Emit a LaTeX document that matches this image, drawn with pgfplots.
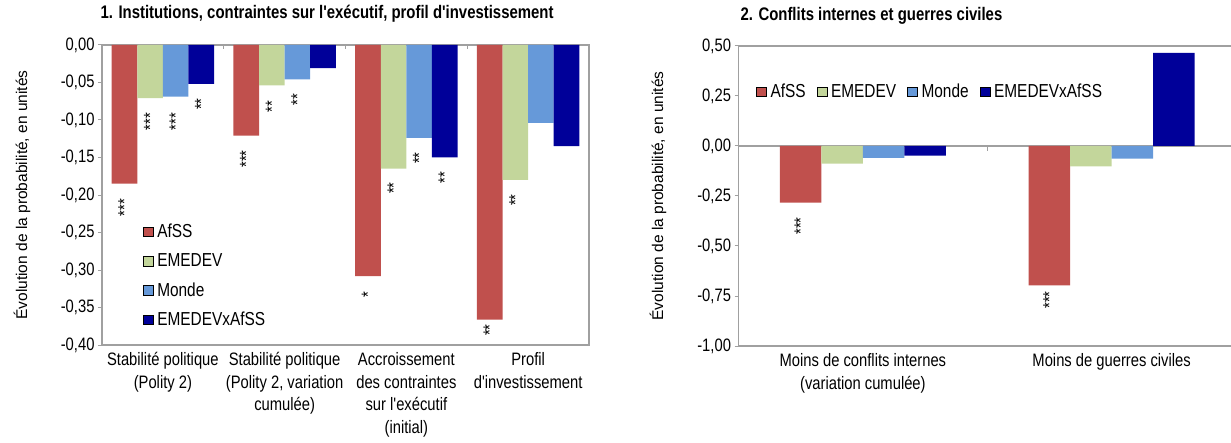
\documentclass[border=0pt]{standalone}
\usepackage{fontspec}
\newfontfamily\nar[FakeStretch=0.82]{Liberation Sans}
\newfontfamily\reg{Liberation Sans}
\usepackage{pgfplots}
\usepackage{pgfplotstable}
\pgfplotsset{compat=1.18}
\definecolor{cA}{RGB}{192,80,77}
\definecolor{cB}{RGB}{195,214,155}
\definecolor{cC}{RGB}{102,153,217}
\definecolor{cD}{RGB}{0,0,153}
\definecolor{frm}{RGB}{160,160,160}

\pgfplotstableread{
x afss emedev monde inter
0 -0.185 -0.071 -0.069 -0.052
1 -0.121 -0.054 -0.046 -0.031
2 -0.308 -0.165 -0.124 -0.150
3 -0.366 -0.180 -0.104 -0.135
}\tabA
\pgfplotstableread{
x afss emedev monde inter
0 -0.283 -0.088 -0.060 -0.048
1 -0.697 -0.102 -0.063 0.465
}\tabB

\newcommand{\fs}{\nar\fontsize{18}{22.5}\selectfont}
\newcommand{\fl}{\nar\fontsize{18.8}{22.5}\selectfont}
\pgfplotsset{
  base/.style={
    scale only axis, height=300pt,
    axis line style={frm, line width=1.3pt},
    ytick pos=left, tick align=outside, major tick length=4pt,
    ytick style={frm, line width=1pt},
    xtick style={draw=none},
    tick label style={font=\fs},
    xticklabel style={align=center},
    legend image code/.code={\fill[##1] (0pt,-4.8pt) rectangle (10pt,4.8pt);},
    legend cell align=left,
    title style={font=\nar\bfseries\fontsize{18.2}{20}\selectfont, anchor=base west},
    ylabel style={font=\reg\fontsize{15.5}{18}\selectfont, anchor=center},
    clip=false,
  },
  stars/.style={only marks, mark=text, text mark={#1}, text mark as node=true,
    text mark style={rotate=90, font=\fs, inner sep=0pt}, forget plot},
}

\begin{document}
\begin{tikzpicture}
\useasboundingbox (0,0) rectangle (1231pt,442pt);
% ---------- Panel 1 ----------
\begin{axis}[base,
  at={(102pt,97pt)}, anchor=south west, width=487pt,
  xmin=-0.5, xmax=3.5, ymin=-0.4, ymax=0,
  ytick={-0.4,-0.35,-0.3,-0.25,-0.2,-0.15,-0.1,-0.05,0},
  yticklabels={{-0,40},{-0,35},{-0,30},{-0,25},{-0,20},{-0,15},{-0,10},{-0,05},{0,00}},
  xtick={0,1,2,3},
  xticklabels={{Stabilité politique\\(Polity 2)},{Stabilité politique\\(Polity 2, variation\\cumulée)},{Accroissement\\des contraintes\\sur l'exécutif\\(initial)},{Profil\\d'investissement}},
  title={1. Institutions, contraintes sur l'exécutif, profil d'investissement},
  title style={at={(rel axis cs:0,1)}, xshift=-5pt, yshift=20.5pt},
  ylabel={Évolution de la probabilité, en unités},
  ylabel style={at={([xshift=-80pt]rel axis cs:0,0.5)}},
  legend style={at={(rel axis cs:0.0835,0.407)}, anchor=north west, draw=none, fill=none,
    inner sep=0pt, row sep=12.5pt, nodes={inner sep=1pt}, font=\fl,
    /tikz/every odd column/.append style={column sep=3pt}},
]
\addlegendimage{fill=cA}
\addlegendimage{fill=cB}
\addlegendimage{fill=cC}
\addlegendimage{fill=cD}
\addlegendentry{AfSS}
\addlegendentry{EMEDEV}
\addlegendentry{Monde}
\addlegendentry{EMEDEVxAfSS}
\addplot[ybar, bar width=0.21, bar shift=-0.315, fill=cA, draw=none, forget plot] table[x=x,y=afss] {\tabA};
\addplot[ybar, bar width=0.21, bar shift=-0.105, fill=cB, draw=none, forget plot] table[x=x,y=emedev] {\tabA};
\addplot[ybar, bar width=0.21, bar shift=0.105, fill=cC, draw=none, forget plot] table[x=x,y=monde] {\tabA};
\addplot[ybar, bar width=0.21, bar shift=0.315, fill=cD, draw=none, forget plot] table[x=x,y=inter] {\tabA};
\addplot[stars={***}] coordinates {(-0.315,-0.217) (-0.105,-0.102) (0.105,-0.102) (0.685,-0.152)};
\addplot[stars={**}] coordinates {(0.315,-0.079) (0.895,-0.082) (1.105,-0.073) (1.895,-0.191) (2.105,-0.151) (2.315,-0.1765) (2.685,-0.380) (2.895,-0.207)};
\addplot[stars={*}] coordinates {(1.685,-0.333)};
\draw[frm, line width=1pt] (axis cs:0.5,0) -- ++(0pt,-4.5pt);
\draw[frm, line width=1pt] (axis cs:1.5,0) -- ++(0pt,-4.5pt);
\draw[frm, line width=1pt] (axis cs:2.5,0) -- ++(0pt,-4.5pt);
\end{axis}
% ---------- Panel 2 ----------
\begin{axis}[base,
  at={(738.5pt,96pt)}, anchor=south west, width=497.5pt,
  xmin=-0.5, xmax=1.5, ymin=-1, ymax=0.5,
  ytick={-1,-0.75,-0.5,-0.25,0,0.25,0.5},
  yticklabels={{-1,00},{-0,75},{-0,50},{-0,25},{0,00},{0,25},{0,50}},
  xtick={0,1},
  xticklabels={{Moins de conflits internes\\(variation cumulée)},{Moins de guerres civiles}},
  title={2. Conflits internes et guerres civiles},
  title style={at={(rel axis cs:0,1)}, xshift=-1.5pt, yshift=19.5pt},
  ylabel={Évolution de la probabilité, en unités},
  ylabel style={at={([xshift=-80.5pt]rel axis cs:0,0.5)}},
  legend columns=4,
  legend style={at={(rel axis cs:0.035,0.847)}, anchor=west, draw=none, fill=none,
    inner sep=0pt, nodes={inner sep=1pt}, font=\fl,
    /tikz/every odd column/.append style={column sep=3pt},
    /tikz/every even column/.append style={column sep=10pt}},
]
\addlegendimage{fill=cA}
\addlegendimage{fill=cB}
\addlegendimage{fill=cC}
\addlegendimage{fill=cD}
\addlegendentry{AfSS}
\addlegendentry{EMEDEV}
\addlegendentry{Monde}
\addlegendentry{EMEDEVxAfSS}
\draw[frm, line width=1.3pt] (axis cs:-0.5,0) -- (axis cs:1.5,0);
\addplot[ybar, bar width=0.1667, bar shift=-0.25, fill=cA, draw=none, forget plot] table[x=x,y=afss] {\tabB};
\addplot[ybar, bar width=0.1667, bar shift=-0.0833, fill=cB, draw=none, forget plot] table[x=x,y=emedev] {\tabB};
\addplot[ybar, bar width=0.1667, bar shift=0.0833, fill=cC, draw=none, forget plot] table[x=x,y=monde] {\tabB};
\addplot[ybar, bar width=0.1667, bar shift=0.25, fill=cD, draw=none, forget plot] table[x=x,y=inter] {\tabB};
\addplot[stars={***}] coordinates {(-0.25,-0.40) (0.75,-0.77)};
\draw[frm, line width=1pt] (axis cs:0.5,0) -- ++(0pt,-5pt);
\end{axis}
\end{tikzpicture}
\end{document}
